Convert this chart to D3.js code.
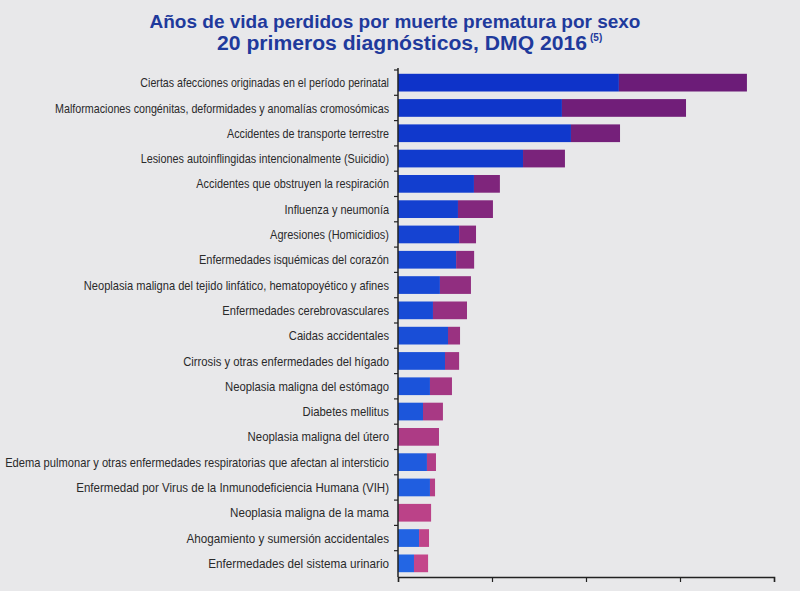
<!DOCTYPE html>
<html>
<head>
<meta charset="utf-8">
<script src="https://cdn.jsdelivr.net/npm/d3@7"></script>
<style>
  body { margin: 0; background: #e8e8ea; }
  svg { display: block; }
</style>
</head>
<body>
<div id="chart"></div>
<script>
// Configure Settings
const w = 800;
const h = 591;

// diagnosticos, ordenados por total de años perdidos
const categories = [
  "Ciertas afecciones originadas en el período perinatal",
  "Malformaciones congénitas, deformidades y anomalías cromosómicas",
  "Accidentes de transporte terrestre",
  "Lesiones autoinflingidas intencionalmente (Suicidio)",
  "Accidentes que obstruyen la respiración",
  "Influenza y neumonía",
  "Agresiones (Homicidios)",
  "Enfermedades isquémicas del corazón",
  "Neoplasia maligna del tejido linfático, hematopoyético y afines",
  "Enfermedades cerebrovasculares",
  "Caidas accidentales",
  "Cirrosis y otras enfermedades del hígado",
  "Neoplasia maligna del estómago",
  "Diabetes mellitus",
  "Neoplasia maligna del útero",
  "Edema pulmonar y otras enfermedades respiratorias que afectan al intersticio",
  "Enfermedad por Virus de la Inmunodeficiencia Humana (VIH)",
  "Neoplasia maligna de la mama",
  "Ahogamiento y sumersión accidentales",
  "Enfermedades del sistema urinario"
];
const hombres = [11750, 8720, 9200, 6650, 4040, 3190, 3250, 3090, 2230, 1860, 2660, 2500, 1700, 1330, 0, 1540, 1700, 0, 1120, 850];
const mujeres = [6810, 6600, 2610, 2230, 1380, 1860, 900, 960, 1650, 1810, 640, 750, 1170, 1060, 2180, 480, 270, 1760, 530, 750];
const xTicks = [0, 5000, 10000, 15000, 20000];

const x0 = 398;
const plotTop = 70;
const plotBottom = 577;

let svg = d3.select("#chart")
  .append("svg")
  .attr("width", w)
  .attr("height", h);

svg.append("rect").attr("width", w).attr("height", h).attr("fill", "#e8e8ea");

// title
svg.append("text")
  .attr("x", 395).attr("y", 28)
  .attr("text-anchor", "middle")
  .attr("font-family", "Liberation Sans, Arial, sans-serif")
  .attr("font-weight", "bold")
  .attr("font-size", 19)
  .attr("fill", "#1f3a9c")
  .text("Años de vida perdidos por muerte prematura por sexo");

let t2 = svg.append("text")
  .attr("x", 217).attr("y", 50)
  .attr("font-family", "Liberation Sans, Arial, sans-serif")
  .attr("font-weight", "bold")
  .attr("font-size", 19.5)
  .attr("fill", "#1f3a9c");
t2.append("tspan").attr("textLength", 370).attr("lengthAdjust", "spacingAndGlyphs")
  .text("20 primeros diagnósticos, DMQ 2016");
t2.append("tspan").attr("x", 590).attr("font-size", 10).attr("dy", -9).text("(5)");

let x = d3.scaleLinear().domain([0, 20000]).range([x0, x0 + 376]);
let y = d3.scaleBand().domain(categories).range([plotTop, plotBottom - 1]).paddingInner(0.3).paddingOuter(0.15);

// colours drift a little down the page, like in the photo
let blue = d3.interpolateRgb("#0e33c9", "#2366e4");
let pink = d3.interpolateRgb("#6c1c78", "#c4468a");
// narrow label font, a bit wider toward the bottom
let squeeze = d3.scaleLinear().domain([0, 19]).range([0.82, 0.9]);

let rows = categories.map(function (c, i) {
  return { cat: c, m: hombres[i], f: mujeres[i], i: i };
});

svg.selectAll(".male")
  .data(rows)
  .enter().append("rect")
  .attr("x", x(0))
  .attr("y", d => y(d.cat))
  .attr("width", d => x(d.m) - x(0))
  .attr("height", y.bandwidth())
  .attr("fill", d => blue(d.i / 19));

svg.selectAll(".female")
  .data(rows)
  .enter().append("rect")
  .attr("x", d => x(d.m))
  .attr("y", d => y(d.cat))
  .attr("width", d => x(d.m + d.f) - x(d.m))
  .attr("height", y.bandwidth())
  .attr("fill", d => pink(d.i / 19));

// labels
svg.selectAll(".lab")
  .data(rows)
  .enter().append("text")
  .attr("dy", "0.35em")
  .attr("text-anchor", "end")
  .attr("font-family", "Liberation Sans, Arial, sans-serif")
  .attr("font-size", 13)
  .attr("fill", "#2a2a2a")
  .text(d => d.cat)
  .attr("transform", function (d) {
    let s = Math.min(squeeze(d.i), (x0 - 14) / this.getComputedTextLength());
    return "translate(" + (x0 - 9) + "," + (y(d.cat) + y.bandwidth() / 2) + ") scale(" + s + ",1)";
  });

// y axis line with ticks between rows
svg.append("line")
  .attr("x1", x0).attr("x2", x0)
  .attr("y1", plotTop - 2).attr("y2", plotBottom)
  .attr("stroke", "#222").attr("stroke-width", 1.5);

let step = y.step();
svg.selectAll(".ytick")
  .data(d3.range(categories.length))
  .enter().append("line")
  .attr("x1", x0 - 4).attr("x2", x0)
  .attr("y1", i => y(categories[i]) - step * 0.15)
  .attr("y2", i => y(categories[i]) - step * 0.15)
  .attr("stroke", "#222").attr("stroke-width", 1.2);

// x axis, no labels
let xAxis = d3.axisBottom(x).tickValues(xTicks).tickSize(5).tickFormat("");
svg.append("g")
  .attr("transform", "translate(0," + plotBottom + ")")
  .call(xAxis)
  .call(g => g.select(".domain").attr("stroke", "#222").attr("stroke-width", 1.5))
  .call(g => g.selectAll(".tick line").attr("stroke", "#222").attr("stroke-width", 1.2));
</script>
</body>
</html>
